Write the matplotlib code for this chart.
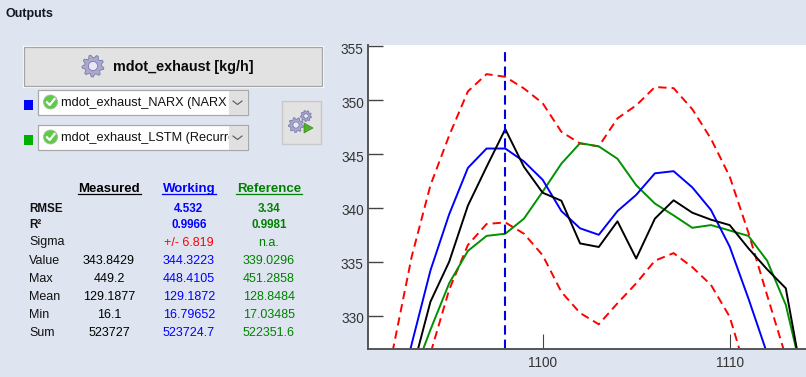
import numpy as np
import matplotlib
matplotlib.use("Agg")
from matplotlib import pyplot as plt
from matplotlib.patches import Rectangle, Polygon, Circle
from matplotlib.transforms import ScaledTranslation

# time steps
x_steps = list(range(1091, 1115))

measured = [None, None, 324.7, 331.3, 335.0, 340.2, 343.8, 347.3, 343.8, 341.4, 340.66, 336.7,
            336.37, 338.75, 335.3, 339.0, 340.7, 339.55, 338.9, 338.4, 336.25, 334.3, 332.54, 323.0]
working = [None, 320.4, 327.4, 334.2, 339.4, 343.7, 345.5, 345.5, 344.3, 342.6, 339.7, 338.1,
           337.5, 339.7, 341.2, 343.2, 343.4, 341.9, 339.8, 336.4, 331.6, 326.5, 320.0, None]
reference = [None, None, 324.1, 328.7, 333.0, 336.0, 337.4, 337.6, 339.0, 341.5, 344.1, 346.0,
             345.7, 344.55, 342.1, 340.4, 339.3, 338.15, 338.4, 337.9, 337.4, 335.1, 331.0, 323.6]
upper = [319.0, 326.9, 335.5, 342.1, 346.7, 350.8, 352.4, 352.15, 351.07, 349.7, 347.05, 345.97,
         345.7, 348.3, 349.5, 351.2, 351.1, 349.15, 346.4, 342.9, 337.7, 331.9, 326.2, None]
lower = [None, None, 320.0, 326.5, 332.4, 336.55, 338.5, 338.65, 337.6, 335.6, 332.2, 330.25,
         329.2, 331.15, 333.0, 335.1, 335.8, 334.5, 332.85, 329.9, 324.1, None, None, None]
cursor_x = 1098
cursor_top = 354.6

y_ticks = [330, 335, 340, 345, 350, 355]
x_ticks = [1100, 1110]

# stats table
col_names = ["Measured", "Working", "Reference"]
row_names = ["RMSE", "R²", "Sigma", "Value", "Max", "Mean", "Min", "Sum"]
measured_col = ["", "", "", "343.8429", "449.2", "129.1877", "16.1", "523727"]
working_col = ["4.532", "0.9966", "+/- 6.819", "344.3223", "448.4105", "129.1872", "16.79652", "523724.7"]
reference_col = ["3.34", "0.9981", "n.a.", "339.0296", "451.2858", "128.8484", "17.03485", "522351.6"]

plt.rcParams['font.family'] = ['Liberation Sans', 'DejaVu Sans']
BG = "#dfe5f0"
W, H = 806, 377

fig = plt.figure(figsize=(W/100, H/100), dpi=100, facecolor=BG)

# plot area
ax = fig.add_axes([368/W, 1-349/H, (W-368)/W, (349-45)/H])
ax.set_xlim(1090.66, 1114.08)
ax.set_ylim(326.91, 355.1)
ax.set_facecolor("white")
for s in ['top', 'right']:
    ax.spines[s].set_visible(False)
for s in ['left', 'bottom']:
    ax.spines[s].set_color("#555555")
    ax.spines[s].set_linewidth(1.4)


def to_arr(vals):
    return np.array([np.nan if v is None else v for v in vals], dtype=float)


dash = (0, (4.3, 2.6))
ax.plot(x_steps, to_arr(upper), color="#ff0000", lw=1.4, linestyle=dash)
ax.plot(x_steps, to_arr(lower), color="#ff0000", lw=1.4, linestyle=dash)
ax.plot(x_steps, to_arr(reference), color="#009000", lw=1.4)
ax.plot(x_steps, to_arr(working), color="#0000ff", lw=1.4)
ax.plot(x_steps, to_arr(measured), color="#000000", lw=1.4)
ax.plot([cursor_x, cursor_x], [326.91, cursor_top], color="#0000e0", lw=1.5, linestyle=(0, (4.5, 2.4)))

ax.set_yticks(y_ticks)
ax.set_xticks(x_ticks)
ax.tick_params(axis='y', direction='in', length=10.5, width=1.0, color="#444444",
               labelsize=9.8, labelcolor="#333333", pad=3)
ax.tick_params(axis='x', direction='in', length=11, width=0.8, color="#444444",
               labelsize=9.8, labelcolor="#333333", pad=5)
# labels sit a little under their ticks in the original
down = ScaledTranslation(0, -1.5/72, fig.dpi_scale_trans)
for lab in ax.get_yticklabels():
    lab.set_transform(lab.get_transform() + down)

# left panel, drawn in pixel coordinates
ui = fig.add_axes([0, 0, 1, 1], zorder=-1)
ui.set_xlim(0, W)
ui.set_ylim(H, 0)
ui.axis('off')


def gear(cx, cy, r, color="#a8a8d0", teeth=9):
    ang = np.linspace(0, 2*np.pi, teeth*4, endpoint=False)
    rad = np.tile([r, r, r*0.76, r*0.76], teeth)
    px = cx + rad*np.cos(ang + 0.15)
    py = cy + rad*np.sin(ang + 0.15)
    ui.add_patch(Polygon(np.column_stack([px, py]), closed=True, fc=color, ec="#7a7aa6", lw=0.6))
    ui.add_patch(Circle((cx, cy), r*0.42, fc="#e8e8f4", ec="#7a7aa6", lw=0.6))


def check(cx, cy):
    ui.add_patch(Circle((cx, cy), 7, fc="#62c84a", ec="#9cc498", lw=0.6))
    ui.plot([cx-3.5, cx-0.8, cx+4], [cy+0.3, cy+3, cy-3], color="white", lw=1.6)


def combo(y0, y1, label, color, swatch_y):
    ui.add_patch(Rectangle((38, y0), 210, y1-y0, fc="white", ec="#a8a8a8", lw=0.9))
    ui.add_patch(Rectangle((229, y0+0.5), 18.5, y1-y0-1, fc="#e0e0e0", ec="none"))
    mid = (y0+y1)/2
    ui.plot([233, 237.5, 242], [mid-1.5, mid+2, mid-1.5], color="#555555", lw=0.8)
    ui.add_patch(Rectangle((24, swatch_y), 9, 9.5, fc=color, ec="none"))
    check(50.5, mid-0.5)
    t = ui.text(61, mid+0.8, label, fontsize=9.2, color="#111111", va='center', ha='left')
    t.set_clip_path(Rectangle((38, y0), 191, y1-y0, transform=ui.transData))
    t.set_clip_on(True)


ui.text(6, 14.5, "Outputs", fontsize=9, fontweight='bold', color="#101828", va='center')

# main button
ui.add_patch(Rectangle((23, 46), 300, 41, fc="none", ec="white", lw=0.8))
ui.add_patch(Rectangle((24, 47), 298, 39, fc="#e2e2e2", ec="#a4a4a4", lw=0.9))
gear(93, 66, 11)
ui.text(113, 66.8, "mdot_exhaust [kg/h]", fontsize=10.4, fontweight='bold', color="#0a0a0a", va='center')

combo(90, 115, "mdot_exhaust_NARX (NARX", "#0000ff", 100)
combo(125, 150, "mdot_exhaust_LSTM (Recurrent", "#00b000", 135)

# small run button
ui.add_patch(Rectangle((282, 101), 39, 43, fc="#e2e2e2", ec="#c8c8c8", lw=1.0))
gear(296, 125, 7.5)
gear(306, 116, 5.5)
ui.add_patch(Polygon([[304, 123], [304, 133], [313, 128]], closed=True, fc="#50b030", ec="#3a8a20", lw=0.5))

# stats table
col_x = [109, 189, 269]
col_colors = ["#000000", "#0000ff", "#008000"]
row_y = [208.5, 224.5, 242.5, 260.5, 278.5, 296.5, 314.5, 332.5]
columns = [measured_col, working_col, reference_col]
underline_half = [31.5, 27, 33]

for name, cx, c, half in zip(col_names, col_x, col_colors, underline_half):
    ui.text(cx, 189, name, fontsize=9.5, fontweight='bold', color=c, ha='center', va='center')
    ui.plot([cx-half, cx+half], [194, 194], color=c, lw=0.9)

for i, name in enumerate(row_names):
    bold = i < 2
    weight = 'bold' if bold else 'normal'
    size = 8.4 if bold else 9
    ui.text(29, row_y[i], name, fontsize=size, fontweight=weight, color="#111111", va='center')
    for col, cx, c in zip(columns, col_x, col_colors):
        col_c = c
        if col is working_col and name == "Sigma":
            col_c = "#ff0000"
        ui.text(cx, row_y[i], col[i], fontsize=size, fontweight=weight, color=col_c,
                ha='center', va='center')

fig.savefig("out.png", dpi=100, facecolor=BG)
